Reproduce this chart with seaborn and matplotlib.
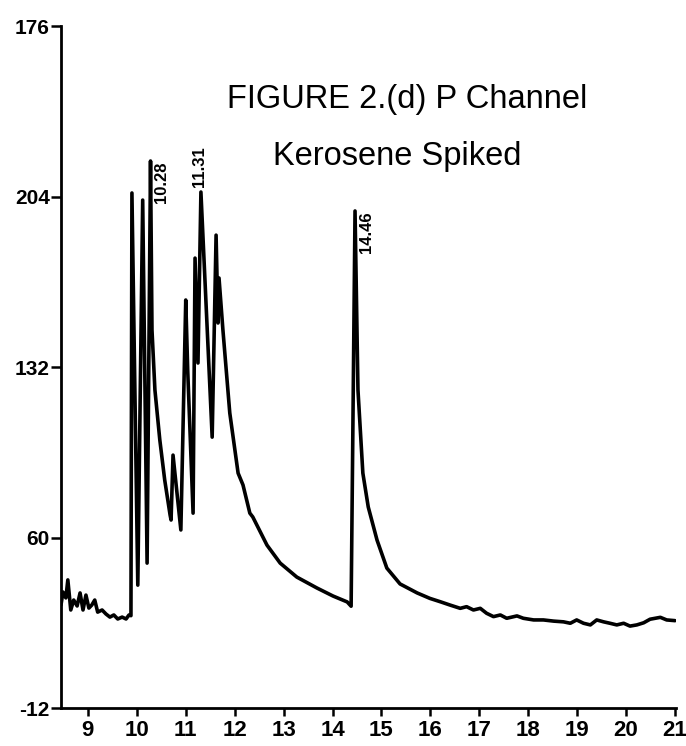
import matplotlib
matplotlib.use("Agg")
import matplotlib.pyplot as plt
from matplotlib import font_manager
import pandas as pd
import seaborn as sns

# Retention time (min) and detector response of the P-channel trace
time_min = [
    8.45, 8.49, 8.55, 8.59, 8.65, 8.71, 8.78, 8.84, 8.90, 8.96, 9.02, 9.08,
    9.14, 9.20, 9.29, 9.37, 9.45, 9.53, 9.61, 9.70, 9.78, 9.84, 9.88, 9.90,
    10.02, 10.12, 10.21, 10.28, 10.31, 10.37, 10.47, 10.57, 10.68, 10.70,
    10.74, 10.90, 11.00, 11.04, 11.15, 11.19, 11.25, 11.31, 11.54, 11.62,
    11.66, 11.68, 11.76, 11.90, 12.07, 12.17, 12.31, 12.37, 12.66, 12.93,
    13.27, 13.68, 14.01, 14.30, 14.38, 14.46, 14.52, 14.62, 14.73, 14.91,
    15.11, 15.38, 15.73, 15.99, 16.20, 16.40, 16.61, 16.74, 16.88, 17.02,
    17.15, 17.29, 17.43, 17.56, 17.77, 17.90, 18.11, 18.31, 18.52, 18.72,
    18.86, 18.99, 19.13, 19.27, 19.40, 19.54, 19.67, 19.81, 19.95, 20.08,
    20.22, 20.36, 20.49, 20.70, 20.83, 21.00,
]
response = [
    31.5, 37.0, 34.5, 42.1, 29.4, 33.6, 31.1, 36.6, 29.4, 35.7, 30.2, 31.5,
    33.6, 28.5, 29.4, 27.7, 26.4, 27.3, 25.6, 26.4, 25.6, 27.3, 27.0, 205.5,
    39.9, 202.5, 49.2, 219.0, 147.6, 122.3, 101.2, 84.3, 69.5, 67.4,
    94.8, 63.2, 160.3, 130.7, 70.3, 178.0, 133.7, 205.9, 102.4, 187.7,
    150.6, 169.6, 147.6, 112.6, 87.2, 82.2, 70.3, 68.7, 56.8, 49.2,
    43.3, 38.7, 35.3, 32.8, 31.0, 197.9, 122.3, 87.2, 72.9, 58.9,
    47.1, 40.4, 36.6, 34.3, 32.9, 31.5, 30.1, 30.8, 29.4, 30.1,
    28.0, 26.6, 27.3, 25.9, 26.9, 25.9, 25.2, 25.2, 24.7, 24.4,
    23.8, 25.2, 23.8, 23.1, 25.2, 24.4, 23.8, 23.1, 23.8, 22.6,
    23.1, 24.0, 25.5, 26.3, 25.2, 24.9,
]

# Annotated peaks: retention time and apex response
peak_times = [10.28, 11.31, 14.46]
peak_heights = [219.0, 205.9, 197.9]
peak_labels = ["10.28", "11.31", "14.46"]

x_ticks = [9, 10, 11, 12, 13, 14, 15, 16, 17, 18, 19, 20, 21]
y_ticks = [-12, 60, 132, 204, 276]
y_tick_labels = ["-12", "60", "132", "204", "176"]

title_lines = ["FIGURE 2.(d) P Channel", "Kerosene Spiked"]

sns.set_style("ticks")
available = {f.name for f in font_manager.fontManager.ttflist}
narrow = "Liberation Sans Narrow" if "Liberation Sans Narrow" in available else "Liberation Sans"
plt.rcParams["font.family"] = ["Liberation Sans", "DejaVu Sans"]
plt.rcParams["text.color"] = "black"

df = pd.DataFrame({"time": time_min, "signal": response})

fig = plt.figure(figsize=(6.86, 7.46), dpi=100)
ax = fig.add_axes([0.0889, 0.0509, 0.8965, 0.9142])

sns.lineplot(data=df, x="time", y="signal", ax=ax, color="black",
             linewidth=2.6, estimator=None, sort=False)

ax.set_xlim(8.45, 21.02)
ax.set_ylim(-12, 276)
ax.set_xticks(x_ticks)
ax.set_xticklabels([str(v) for v in x_ticks], fontfamily=narrow,
                   fontweight="bold", fontsize=16)
ax.set_yticks(y_ticks)
ax.set_yticklabels(y_tick_labels, fontweight="bold", fontsize=15)
ax.set_xlabel("")
ax.set_ylabel("")

for side in ("top", "right"):
    ax.spines[side].set_visible(False)
for side in ("left", "bottom"):
    ax.spines[side].set_linewidth(2.0)
    ax.spines[side].set_color("black")
ax.tick_params(axis="y", length=7, width=1.8, pad=1, colors="black",
               labelcolor="black")
ax.tick_params(axis="x", length=6, width=1.8, pad=2.5, colors="black",
               labelcolor="black")

# Retention-time labels next to the main peaks
for t, h, lab in zip(peak_times, peak_heights, peak_labels):
    if lab == "11.31":
        ax.text(t - 0.03, h + 2, lab, rotation=90, ha="center", va="bottom",
                fontsize=12, fontweight="bold", color="black")
    else:
        ax.text(t + 0.23, h, lab, rotation=90, ha="center", va="top",
                fontsize=12, fontweight="bold", color="black")

fig.text(0.593, 0.866, title_lines[0], ha="center", va="center",
         fontsize=23.5, color="black")
fig.text(0.579, 0.790, title_lines[1], ha="center", va="center",
         fontsize=23.5, color="black")

fig.savefig("out.png", dpi=100)
